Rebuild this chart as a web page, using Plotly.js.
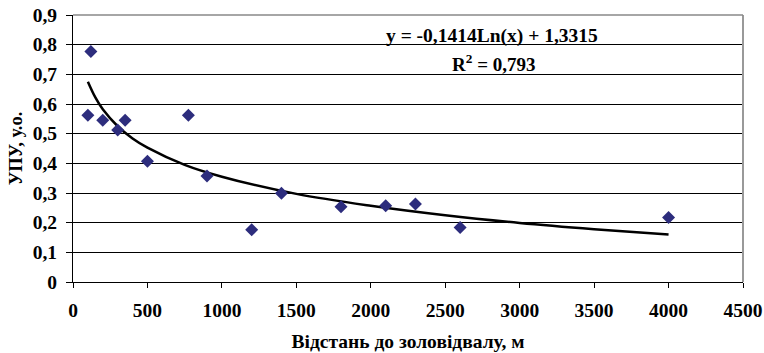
<!DOCTYPE html>
<html>
<head>
<meta charset="utf-8">
<script src="https://cdn.plot.ly/plotly-3.0.1.min.js"></script>
<style>html,body{margin:0;padding:0;background:#fff;}#chart{width:764px;height:353px;}</style>
</head>
<body>
<div id="chart"></div>
<script>
// Measured points
const distance = [100, 120, 200, 300, 350, 775, 500, 900, 1200, 1400, 1800, 2100, 2300, 2600, 4000];
const upu = [0.562, 0.777, 0.545, 0.512, 0.545, 0.562, 0.407, 0.357, 0.176, 0.299, 0.254, 0.257, 0.263, 0.184, 0.217];
// Trend line
const trendX = [100, 150, 200, 300, 400, 500, 750, 1000, 1500, 2000, 2500, 3000, 3500, 4000];
const trendY = [0.675, 0.622, 0.582, 0.525, 0.484, 0.453, 0.395, 0.355, 0.297, 0.257, 0.225, 0.199, 0.178, 0.160];
const xTitle = 'Відстань до золовідвалу, м';
const yTitle = 'УПУ, у.о.';
const eqText = 'y = -0,1414Ln(x) + 1,3315';
const r2Text = 'R<sup>2</sup> = 0,793';

const font = {family: '"Liberation Serif", "Times New Roman", serif', color: '#000'};

const data = [
  {x: trendX, y: trendY, type: 'scatter', mode: 'lines', line: {color: '#000', width: 2.5, shape: 'spline'}, hoverinfo: 'skip'},
  {x: distance, y: upu, type: 'scatter', mode: 'markers', marker: {symbol: 'diamond', size: 10, color: '#2d2d7d'}}
];

const layout = {
  width: 764, height: 353,
  margin: {l: 73, r: 21, t: 15, b: 71},
  paper_bgcolor: '#fff', plot_bgcolor: '#fff',
  showlegend: false,
  separators: ', ',
  font: Object.assign({}, font, {size: 19}),
  xaxis: {
    range: [0, 4500], dtick: 500, tick0: 0,
    showgrid: false, zeroline: false,
    showline: true, linecolor: '#000', linewidth: 1,
    ticks: 'outside', ticklen: 5, tickcolor: '#000',
    ticklabelstandoff: 6,
    tickfont: Object.assign({}, font, {size: 19.5, weight: 'bold'}),
    title: {text: '<b>' + xTitle + '</b>', font: Object.assign({}, font, {size: 19.5}), standoff: 13}
  },
  yaxis: {
    range: [0, 0.9], dtick: 0.1, tick0: 0,
    showgrid: true, gridcolor: '#000', gridwidth: 1,
    zeroline: false,
    showline: true, linecolor: '#000', linewidth: 1,
    ticks: 'outside', ticklen: 6, tickcolor: '#000',
    ticklabelstandoff: 5,
    tickfont: Object.assign({}, font, {size: 19.5, weight: 'bold'}),
    title: {text: '<b>' + yTitle + '</b>', font: Object.assign({}, font, {size: 18.5}), standoff: 5}
  },
  shapes: [
    {type: 'line', xref: 'paper', yref: 'paper', x0: 1, x1: 1, y0: 0, y1: 1, line: {color: '#999', width: 2}},
    {type: 'line', xref: 'paper', yref: 'paper', x0: 0, x1: 1, y0: 1, y1: 1, line: {color: '#888', width: 1.5}}
  ],
  annotations: [
    {xref: 'paper', yref: 'paper', x: (492 - 73) / 670, y: (282 - 36) / 267, text: '<b>' + eqText + '</b>', showarrow: false, font: Object.assign({}, font, {size: 19.5}), xanchor: 'center', yanchor: 'middle'},
    {xref: 'paper', yref: 'paper', x: (493 - 73) / 670, y: (282 - 63) / 267, text: '<b>' + r2Text + '</b>', showarrow: false, font: Object.assign({}, font, {size: 19}), xanchor: 'center', yanchor: 'middle'}
  ]
};

Plotly.newPlot('chart', data, layout, {displayModeBar: false, staticPlot: true});
</script>
</body>
</html>
